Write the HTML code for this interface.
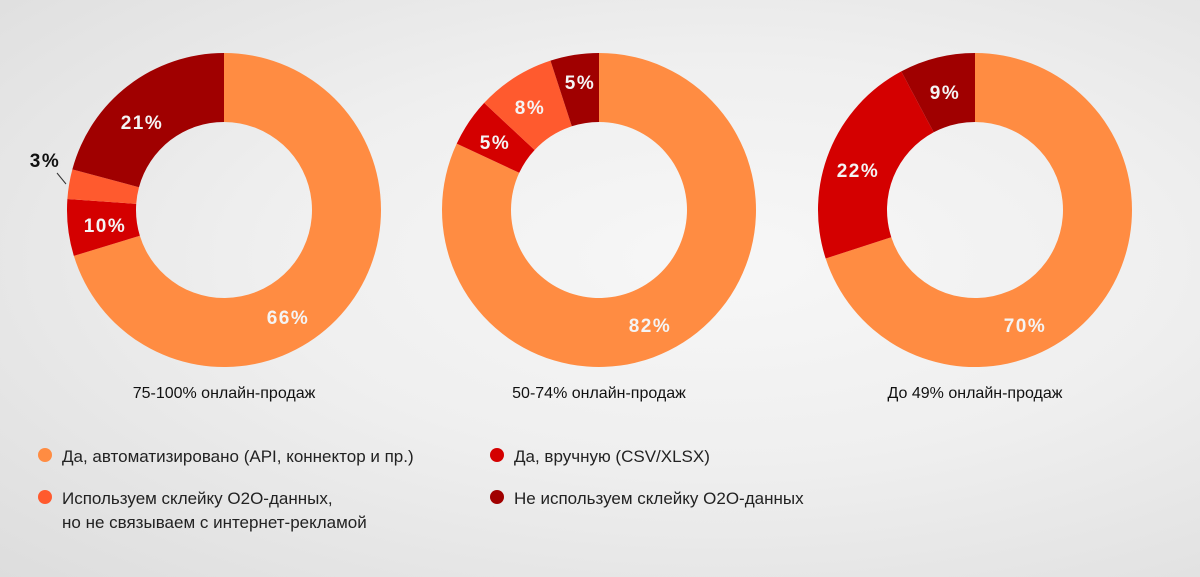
<!DOCTYPE html>
<html><head><meta charset="utf-8"><style>
body{margin:0;width:1200px;height:577px;overflow:hidden;background:radial-gradient(ellipse at 60% 45%,#f7f7f7 0%,#efefef 45%,#dddddd 100%);font-family:"Liberation Sans",sans-serif;}
svg{position:absolute;left:0;top:0}
.p{font-family:"Liberation Sans",sans-serif;font-weight:bold;font-size:19px;fill:#f4f4f4;letter-spacing:1.5px;text-anchor:middle}
.t{font-size:16px;fill:#111;text-anchor:middle}
.l{font-size:17px;fill:#222}
</style></head><body>
<svg id="s" width="1200" height="577" xmlns="http://www.w3.org/2000/svg">
<g id="d"></g>
<text class="p" x="288" y="324">66%</text>
<text class="p" x="105" y="232">10%</text>
<text class="p" x="142" y="129">21%</text>
<text class="p" x="45" y="167" style="fill:#111">3%</text>
<line x1="57" y1="173" x2="66" y2="184" stroke="#333" stroke-width="1"/>
<text class="p" x="650" y="332">82%</text>
<text class="p" x="495" y="149">5%</text>
<text class="p" x="530" y="114">8%</text>
<text class="p" x="580" y="89">5%</text>
<text class="p" x="1025" y="332">70%</text>
<text class="p" x="858" y="177">22%</text>
<text class="p" x="945" y="99">9%</text>
<text class="t" x="224" y="398">75-100% онлайн-продаж</text>
<text class="t" x="599" y="398">50-74% онлайн-продаж</text>
<text class="t" x="975" y="398">До 49% онлайн-продаж</text>
<circle cx="45" cy="455" r="7" fill="#FF8C42"/>
<text class="l" x="62" y="462">Да, автоматизировано (API, коннектор и пр.)</text>
<circle cx="497" cy="455" r="7" fill="#D40000"/>
<text class="l" x="514" y="462">Да, вручную (CSV/XLSX)</text>
<circle cx="45" cy="497" r="7" fill="#FF5A2E"/>
<text class="l" x="62" y="504">Используем склейку О2О-данных,</text>
<text class="l" x="62" y="528">но не связываем с интернет-рекламой</text>
<circle cx="497" cy="497" r="7" fill="#A00000"/>
<text class="l" x="514" y="504">Не используем склейку О2О-данных</text>
</svg>
<script>
var cols=["#FF8C42","#D40000","#FF5A2E","#A00000"];
var charts=[[224,[253,274,285,360]],[599,[295,313,342,360]],[975,[252,332,332,360]]];
var R=157,r=88,cy=210,h="";
charts.forEach(function(c){var cx=c[0],e=c[1],prev=0;
e.forEach(function(end,i){var a0=prev*Math.PI/180,a1=end*Math.PI/180;var d=end-prev;prev=end;if(d<=0)return;
function pt(rad,an){return (cx+rad*Math.sin(an)).toFixed(2)+","+(cy-rad*Math.cos(an)).toFixed(2)}
var lg=d>180?1:0;
h+='<path fill="'+cols[i]+'" d="M'+pt(R,a0)+'A'+R+','+R+' 0 '+lg+' 1 '+pt(R,a1)+'L'+pt(r,a1)+'A'+r+','+r+' 0 '+lg+' 0 '+pt(r,a0)+'Z"/>';});});
document.getElementById("d").innerHTML=h;
</script>
</body></html>
